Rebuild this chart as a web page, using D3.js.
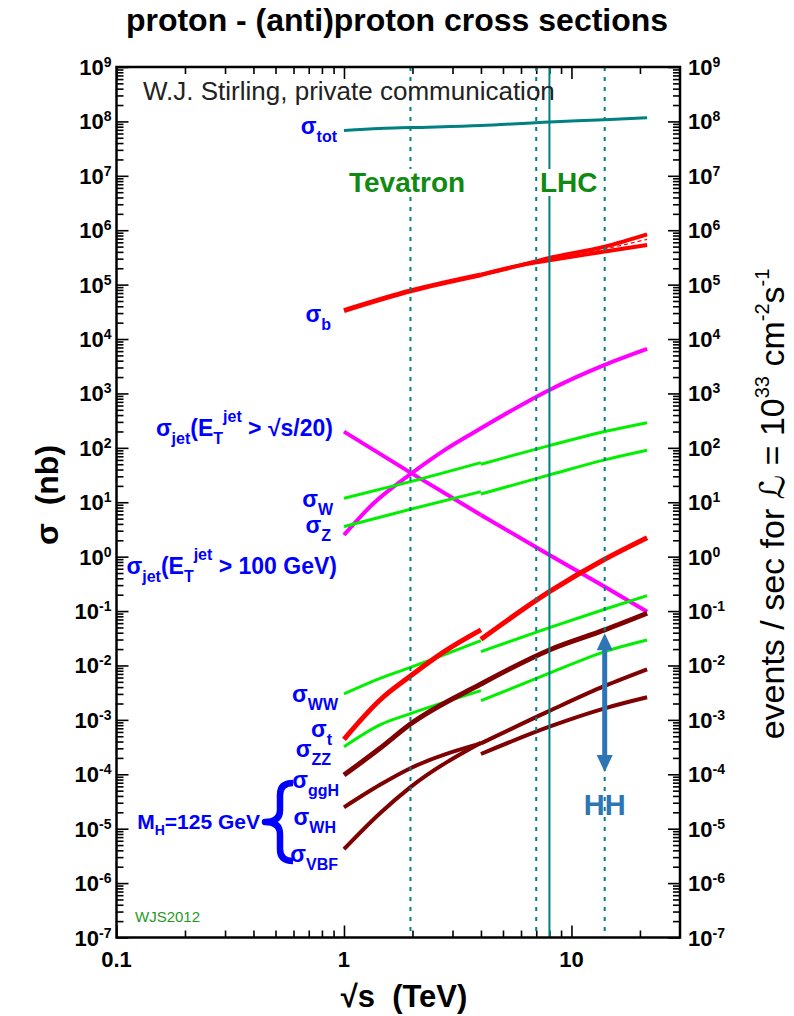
<!DOCTYPE html>
<html>
<head>
<meta charset="utf-8">
<script src="https://cdn.jsdelivr.net/npm/d3@7"></script>
<style>
  body { margin: 0; background: #fff; }
  svg { display: block; font-family: "Liberation Sans", Arial, Helvetica, sans-serif; }
</style>
</head>
<body>
<div id="chart"></div>
<script>
// proton - (anti)proton cross sections, values in nb vs sqrt(s) in TeV
// each series is [sqrt(s), sigma] pairs; TEV = p-pbar branch (1-4 TeV), LHC = pp branch (4+ TeV)

const SIGMA_TOT = [[1, 6.8e7], [1.44, 7.4e7], [1.96, 7.7e7], [4, 8.4e7], [8, 9.8e7], [14, 1.07e8], [21.5, 1.17e8]];

const SIGMA_B_TEV = [[1, 3.33e4], [1.96, 7.66e4], [4, 1.51e5]];
const SIGMA_B_LHC_HI = [[4, 1.51e5], [6, 2.28e5], [8, 3.1e5], [14, 5.0e5], [21.5, 8.4e5]];
const SIGMA_B_LHC_LO = [[4, 1.51e5], [6, 2.28e5], [8, 2.8e5], [14, 4.05e5], [21.5, 5.37e5]];
const SIGMA_B_LHC_MID = [[6, 2.28e5], [8, 2.95e5], [14, 4.53e5], [21.5, 6.8e5]];

const JET_S20_TEV = [[1, 199], [1.96, 35], [4, 5.84]];
const JET_S20_LHC = [[4, 5.84], [8, 1.07], [14, 0.281], [21.5, 0.0975]];
const JET_100 = [[1, 2.5], [1.35, 9.6], [1.96, 33], [2.8, 94], [4, 229], [8, 1160], [14, 3340], [21.5, 6580]];

const SIGMA_W_TEV = [[1, 11.8], [1.96, 23.9], [4, 53.5]];
const SIGMA_W_LHC = [[4, 50], [8, 110], [14, 199], [21.5, 290]];
const SIGMA_Z_TEV = [[1, 3.56], [1.96, 7.43], [4, 15.7]];
const SIGMA_Z_LHC = [[4, 14.2], [8, 31.8], [14, 60], [21.5, 90]];

const SIGMA_T_TEV = [[1, 4.4e-4], [1.44, 2.32e-3], [1.96, 6.4e-3], [2.8, 0.0187], [4, 0.045]];
const SIGMA_T_LHC = [[4, 0.0303], [8, 0.227], [14, 0.896], [21.5, 2.23]];

const SIGMA_WW_TEV = [[1, 3.0e-3], [1.44, 5.8e-3], [1.96, 9.2e-3], [4, 0.0286]];
const SIGMA_WW_LHC = [[4, 0.018], [8, 0.0495], [14, 0.108], [21.5, 0.192]];
const SIGMA_ZZ_TEV = [[1, 3.2e-4], [1.44, 8.1e-4], [1.96, 1.3e-3], [4, 3.44e-3]];
const SIGMA_ZZ_LHC = [[4, 2.25e-3], [8, 7.2e-3], [14, 0.018], [21.5, 0.0294]];

const SIGMA_GGH = [[1, 9.7e-5], [1.44, 3.0e-4], [1.96, 8.4e-4], [4, 4.57e-3], [8, 0.0193], [14, 0.045], [21.5, 0.091]];
const SIGMA_WH_TEV = [[1, 2.47e-5], [1.44, 6.4e-5], [1.96, 1.29e-4], [4, 3.7e-4]];
const SIGMA_WH_LHC = [[4, 2.36e-4], [8, 7.5e-4], [14, 1.63e-3], [21.5, 2.6e-3]];
const SIGMA_VBF_TEV = [[1, 4.2e-6], [1.44, 1.92e-5], [1.96, 5.8e-5], [4, 3.8e-4]];
const SIGMA_VBF_LHC = [[4, 3.7e-4], [8, 1.46e-3], [14, 4.2e-3], [21.5, 8.5e-3]];

const HH_RANGE = [[14, 0.039], [14, 1.1e-4]];

const ENERGIES_DOTTED = [1.96, 7, 14];
const ENERGIES_SOLID = [8];

const X_MAJOR = [0.1, 1, 10];
const X_MAJOR_LABELS = ['0.1', '1', '10'];
const Y_EXPONENTS = d3.range(-7, 10);

// ---------------------------------------------------------------

const RED = '#ff0000', MAGENTA = '#ff00ff', GREEN = '#00f000', DARKRED = '#7f0000', TEAL = '#008080';
const BLUE = '#0000ff', LABEL_GREEN = '#108a10', HH_BLUE = '#2e75b6';

const svg = d3.select('#chart').append('svg')
    .attr('width', 794)
    .attr('height', 1016);

const x = d3.scaleLog().domain([0.1, 30]).range([116.5, 680]);
const y = d3.scaleLog().domain([1e-7, 1e9]).range([937.5, 67]);
const [x0, x1] = x.range();
const [y0, y1] = y.range();

// minor ticks for log scales
const yMajor = Y_EXPONENTS.map(e => Math.pow(10, e));
const yMinor = [];
Y_EXPONENTS.slice(0, -1).forEach(e => {
    for (let m = 2; m <= 9; m++) yMinor.push(m * Math.pow(10, e));
});
const xMinor = [];
[0.1, 1, 10].forEach(d => {
    for (let m = 2; m <= 9; m++) if (m * d < 30) xMinor.push(m * d);
});

// axes ticks pointing inward
function tickAxis(axis, values, size, transform) {
    svg.append('g')
        .attr('transform', transform)
        .call(axis.tickValues(values).tickSize(size).tickFormat(''))
        .call(g => g.select('.domain').remove())
        .call(g => g.selectAll('line').attr('stroke', '#000').attr('stroke-width', 1.6));
}
tickAxis(d3.axisRight(y), yMajor, 12, `translate(${x0},0)`);
tickAxis(d3.axisRight(y), yMinor, 7, `translate(${x0},0)`);
tickAxis(d3.axisLeft(y), yMajor, 12, `translate(${x1},0)`);
tickAxis(d3.axisLeft(y), yMinor, 7, `translate(${x1},0)`);
tickAxis(d3.axisTop(x), X_MAJOR, 12, `translate(0,${y0})`);
tickAxis(d3.axisTop(x), xMinor, 7, `translate(0,${y0})`);
tickAxis(d3.axisBottom(x), X_MAJOR, 12, `translate(0,${y1})`);
tickAxis(d3.axisBottom(x), xMinor, 7, `translate(0,${y1})`);

// tick labels with superscript exponents
const tickLabels = svg.append('g')
    .attr('font-weight', 'bold')
    .attr('font-size', 22)
    .attr('fill', '#000');

function powLabel(px, exp, anchor) {
    const t = tickLabels.append('text')
        .attr('x', px)
        .attr('y', y(Math.pow(10, exp)) + 8)
        .attr('text-anchor', anchor);
    t.append('tspan').text('10');
    t.append('tspan').attr('dy', -8).attr('font-size', 14).text(exp);
}
Y_EXPONENTS.forEach(e => {
    powLabel(x0 - 5, e, 'end');
    powLabel(x1 + 8, e, 'start');
});
X_MAJOR.forEach((v, i) => {
    tickLabels.append('text')
        .attr('x', x(v))
        .attr('y', y0 + 29)
        .attr('text-anchor', 'middle')
        .text(X_MAJOR_LABELS[i]);
});

// curves
const line = d3.line()
    .x(d => x(d[0]))
    .y(d => y(d[1]))
    .curve(d3.curveMonotoneX);

const SERIES = [
    { data: SIGMA_TOT, color: TEAL, width: 3 },
    { data: SIGMA_B_TEV, color: RED, width: 5 },
    { data: SIGMA_B_LHC_HI, color: RED, width: 4 },
    { data: SIGMA_B_LHC_LO, color: RED, width: 4 },
    { data: SIGMA_B_LHC_MID, color: RED, width: 1.2, dash: '4,3' },
    { data: JET_S20_TEV, color: MAGENTA, width: 4 },
    { data: JET_S20_LHC, color: MAGENTA, width: 4 },
    { data: JET_100, color: MAGENTA, width: 4 },
    { data: SIGMA_W_TEV, color: GREEN, width: 3 },
    { data: SIGMA_W_LHC, color: GREEN, width: 3 },
    { data: SIGMA_Z_TEV, color: GREEN, width: 3 },
    { data: SIGMA_Z_LHC, color: GREEN, width: 3 },
    { data: SIGMA_WW_TEV, color: GREEN, width: 3 },
    { data: SIGMA_WW_LHC, color: GREEN, width: 3 },
    { data: SIGMA_ZZ_TEV, color: GREEN, width: 3 },
    { data: SIGMA_ZZ_LHC, color: GREEN, width: 3 },
    { data: SIGMA_T_TEV, color: RED, width: 5 },
    { data: SIGMA_T_LHC, color: RED, width: 5 },
    { data: SIGMA_GGH, color: DARKRED, width: 5 },
    { data: SIGMA_WH_TEV, color: DARKRED, width: 4 },
    { data: SIGMA_WH_LHC, color: DARKRED, width: 4 },
    { data: SIGMA_VBF_TEV, color: DARKRED, width: 4 },
    { data: SIGMA_VBF_LHC, color: DARKRED, width: 4 }
];

svg.append('g').selectAll('path')
    .data(SERIES)
    .enter()
    .append('path')
    .attr('d', d => line(d.data))
    .attr('fill', 'none')
    .attr('stroke', d => d.color)
    .attr('stroke-width', d => d.width)
    .attr('stroke-dasharray', d => d.dash || null);

// collider energies
svg.append('g').selectAll('line')
    .data(ENERGIES_DOTTED)
    .enter()
    .append('line')
    .attr('x1', d => x(d)).attr('x2', d => x(d))
    .attr('y1', y1).attr('y2', y0)
    .attr('stroke', TEAL)
    .attr('stroke-width', 2)
    .attr('stroke-dasharray', '4,6');

svg.append('g').selectAll('line')
    .data(ENERGIES_SOLID)
    .enter()
    .append('line')
    .attr('x1', d => x(d)).attr('x2', d => x(d))
    .attr('y1', y1).attr('y2', y0)
    .attr('stroke', TEAL)
    .attr('stroke-width', 2);

// frame
svg.append('rect')
    .attr('x', x0).attr('y', y1)
    .attr('width', x1 - x0).attr('height', y0 - y1)
    .attr('fill', 'none')
    .attr('stroke', '#000')
    .attr('stroke-width', 2.5);

// collider labels on white background
function boxLabel(text, px, py) {
    const t = svg.append('text')
        .attr('x', px).attr('y', py)
        .attr('font-size', 28)
        .attr('font-weight', 'bold')
        .attr('fill', LABEL_GREEN)
        .text(text);
    const b = t.node().getBBox();
    svg.insert('rect', () => t.node())
        .attr('x', b.x - 2).attr('y', b.y + 2)
        .attr('width', b.width + 4).attr('height', b.height - 4)
        .attr('fill', '#fff');
}
boxLabel('Tevatron', 349, 192);
boxLabel('LHC', 540, 192);

svg.append('text')
    .attr('x', 143).attr('y', 100)
    .attr('font-size', 26)
    .attr('fill', '#222')
    .text('W.J. Stirling, private communication');

svg.append('text')
    .attr('x', 135).attr('y', 922)
    .attr('font-size', 15)
    .attr('fill', '#1f9a1f')
    .text('WJS2012');

// series labels
function rich(px, py, parts, opt) {
    const t = svg.append('text')
        .attr('x', px).attr('y', py)
        .attr('text-anchor', opt.anchor || 'end')
        .attr('font-size', opt.size)
        .attr('font-weight', 'bold')
        .attr('fill', opt.color);
    let shift = 0;
    parts.forEach(([txt, kind]) => {
        const target = kind === 'sub' ? opt.subDy : kind === 'sup' ? opt.supDy : 0;
        const s = t.append('tspan').attr('dy', target - shift).text(txt);
        if (kind) s.attr('font-size', opt.small);
        shift = target;
    });
    return t;
}

const labelOpt = { size: 23, small: 16, subDy: 8, supDy: -14, color: BLUE };
const SERIES_LABELS = [
    { x: 337, y: 133.5, parts: [['σ'], ['tot', 'sub']] },
    { x: 331, y: 321.7, parts: [['σ'], ['b', 'sub']] },
    { x: 333, y: 436, parts: [['σ'], ['jet', 'sub'], ['(E'], ['T', 'sub'], ['jet', 'sup'], [' > √s/20)']] },
    { x: 333, y: 506.7, parts: [['σ'], ['W', 'sub']] },
    { x: 331, y: 533, parts: [['σ'], ['Z', 'sub']] },
    { x: 337, y: 574, parts: [['σ'], ['jet', 'sub'], ['(E'], ['T', 'sub'], ['jet', 'sup'], [' > 100 GeV)']] },
    { x: 338, y: 701.7, parts: [['σ'], ['WW', 'sub']] },
    { x: 332, y: 736.7, parts: [['σ'], ['t', 'sub']] },
    { x: 331, y: 756.7, parts: [['σ'], ['ZZ', 'sub']] },
    { x: 339, y: 788.3, parts: [['σ'], ['ggH', 'sub']] },
    { x: 336, y: 825, parts: [['σ'], ['WH', 'sub']] },
    { x: 338, y: 862, parts: [['σ'], ['VBF', 'sub']] }
];
SERIES_LABELS.forEach(l => rich(l.x, l.y, l.parts, labelOpt));

rich(260, 829, [['M'], ['H', 'sub'], ['=125 GeV']], { size: 21, small: 14, subDy: 6, supDy: 0, color: BLUE });

// brace grouping the Higgs channels
svg.append('path')
    .attr('d', 'M293,783 Q280,783 280,795 L280,810 Q280,822 265,822 Q280,822 280,834 L280,849 Q280,861 293,861')
    .attr('fill', 'none')
    .attr('stroke', BLUE)
    .attr('stroke-width', 6.5)
    .attr('stroke-linejoin', 'round');

// HH double arrow
const hx = x(HH_RANGE[0][0]);
const hTop = y(HH_RANGE[0][1]);
const hBot = y(HH_RANGE[1][1]);
svg.append('line')
    .attr('x1', hx).attr('x2', hx)
    .attr('y1', hTop + 14).attr('y2', hBot - 14)
    .attr('stroke', HH_BLUE)
    .attr('stroke-width', 5);
svg.append('path')
    .attr('d', `M${hx},${hTop} L${hx - 8},${hTop + 17} L${hx + 8},${hTop + 17} Z`)
    .attr('fill', HH_BLUE);
svg.append('path')
    .attr('d', `M${hx},${hBot} L${hx - 8},${hBot - 17} L${hx + 8},${hBot - 17} Z`)
    .attr('fill', HH_BLUE);
svg.append('text')
    .attr('x', hx).attr('y', 815)
    .attr('text-anchor', 'middle')
    .attr('font-size', 29)
    .attr('font-weight', 'bold')
    .attr('fill', HH_BLUE)
    .text('HH');

// titles
svg.append('text')
    .attr('x', 397).attr('y', 31)
    .attr('text-anchor', 'middle')
    .attr('font-size', 32)
    .attr('font-weight', 'bold')
    .text('proton - (anti)proton cross sections');

svg.append('text')
    .attr('x', 404).attr('y', 1007)
    .attr('text-anchor', 'middle')
    .attr('font-size', 31)
    .attr('font-weight', 'bold')
    .style('white-space', 'pre')
    .text('√s  (TeV)');

svg.append('text')
    .attr('transform', 'translate(58,495) rotate(-90)')
    .attr('text-anchor', 'middle')
    .attr('font-size', 32)
    .attr('font-weight', 'bold')
    .style('white-space', 'pre')
    .text('σ  (nb)');

const rt = svg.append('text')
    .attr('transform', 'translate(784,504) rotate(-90)')
    .attr('text-anchor', 'middle')
    .attr('font-size', 34);
rt.append('tspan').text('events / sec for ');
rt.append('tspan').attr('font-family', '"DejaVu Sans", serif').attr('font-style', 'italic').text('ℒ');
rt.append('tspan').text(' = 10');
rt.append('tspan').attr('dy', -15).attr('font-size', 20).text('33');
rt.append('tspan').attr('dy', 15).text(' cm');
rt.append('tspan').attr('dy', -15).attr('font-size', 20).text('-2');
rt.append('tspan').attr('dy', 15).text('s');
rt.append('tspan').attr('dy', -15).attr('font-size', 20).text('-1');
</script>
</body>
</html>
